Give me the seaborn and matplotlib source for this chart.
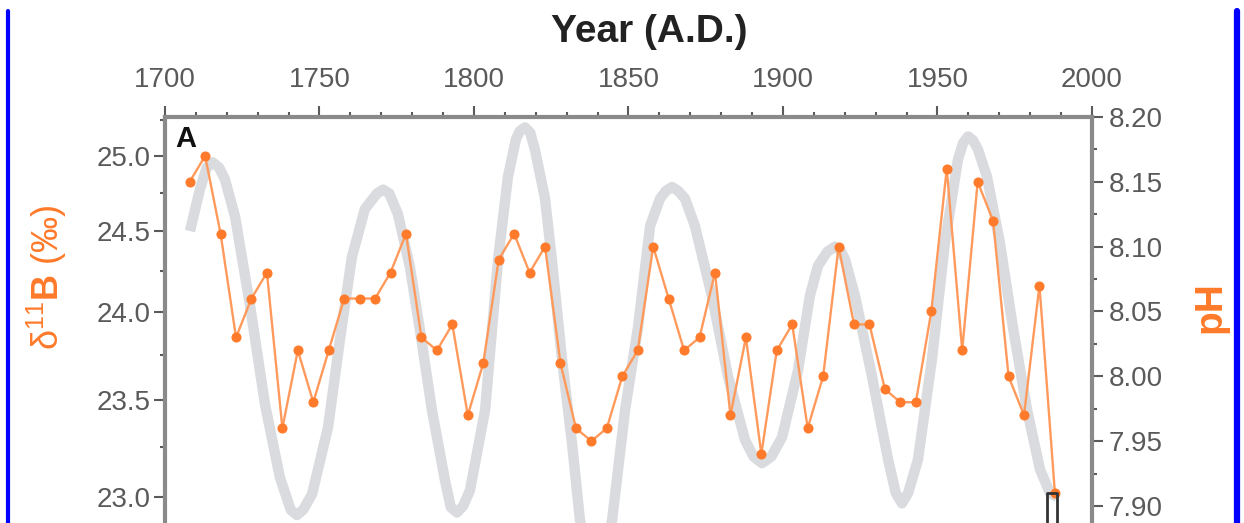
import numpy as np
import matplotlib
matplotlib.use('Agg')
import matplotlib.pyplot as plt
from matplotlib.lines import Line2D
from matplotlib.ticker import MultipleLocator, FormatStrFormatter
import seaborn as sns

# coral boron record, one sample every 5 years (pH units, right axis)
years = [1708, 1713, 1718, 1723, 1728, 1733, 1738, 1743, 1748, 1753,
         1758, 1763, 1768, 1773, 1778, 1783, 1788, 1793, 1798, 1803,
         1808, 1813, 1818, 1823, 1828, 1833, 1838, 1843, 1848, 1853,
         1858, 1863, 1868, 1873, 1878, 1883, 1888, 1893, 1898, 1903,
         1908, 1913, 1918, 1923, 1928, 1933, 1938, 1943, 1948, 1953,
         1958, 1963, 1968, 1973, 1978, 1983, 1988]
ph_values = [8.15, 8.17, 8.11, 8.03, 8.06, 8.08, 7.96, 8.02, 7.98, 8.02,
             8.06, 8.06, 8.06, 8.08, 8.11, 8.03, 8.02, 8.04, 7.97, 8.01,
             8.09, 8.11, 8.08, 8.10, 8.01, 7.96, 7.95, 7.96, 8.00, 8.02,
             8.10, 8.06, 8.02, 8.03, 8.08, 7.97, 8.03, 7.94, 8.02, 8.04,
             7.96, 8.00, 8.10, 8.04, 8.04, 7.99, 7.98, 7.98, 8.05, 8.16,
             8.02, 8.15, 8.12, 8.00, 7.97, 8.07, 7.91]

# grey smoothed oscillation
curve_years = [1708.1, 1711.3, 1713.5, 1715.5, 1717.5, 1719.4, 1722.7, 1727.5, 1732.4, 1737.2,
               1740.7, 1742.7, 1744.7, 1747.6, 1752.8, 1756.6, 1760.5, 1764.7, 1768.6, 1770.6,
               1772.6, 1775.4, 1779.3, 1782.5, 1786.4, 1790.6, 1792.5, 1794.5, 1796.5, 1798.7,
               1803.6, 1807.8, 1811.0, 1813.6, 1814.8, 1816.5, 1818.2, 1819.7, 1823.0, 1825.2,
               1828.5, 1831.7, 1834.3, 1837.5, 1839.5, 1841.5, 1844.7, 1848.9, 1853.1, 1857.0,
               1860.2, 1862.1, 1864.1, 1866.1, 1868.3, 1871.5, 1877.0, 1882.2, 1887.7, 1890.5,
               1893.2, 1896.2, 1899.7, 1904.9, 1908.7, 1911.3, 1914.3, 1916.8, 1918.6, 1920.1,
               1923.3, 1928.8, 1934.0, 1936.5, 1938.5, 1940.5, 1943.7, 1948.2, 1952.4, 1956.6,
               1958.3, 1959.9, 1961.5, 1963.1, 1966.0, 1970.2, 1974.4, 1979.0, 1983.2, 1986.4,
               1988.7]
curve_ph = [8.112, 8.144, 8.161, 8.165, 8.161, 8.152, 8.123, 8.055, 7.978, 7.922,
            7.897, 7.893, 7.897, 7.909, 7.961, 8.028, 8.092, 8.129, 8.141, 8.144,
            8.141, 8.125, 8.084, 8.036, 7.974, 7.920, 7.899, 7.895, 7.900, 7.912,
            7.974, 8.090, 8.154, 8.183, 8.189, 8.192, 8.188, 8.175, 8.137, 8.090,
            8.013, 7.949, 7.889, 7.860, 7.854, 7.860, 7.889, 7.974, 8.038, 8.116,
            8.137, 8.143, 8.146, 8.143, 8.137, 8.116, 8.062, 8.000, 7.951, 7.938,
            7.933, 7.938, 7.953, 8.005, 8.062, 8.085, 8.096, 8.100, 8.097, 8.090,
            8.062, 8.000, 7.936, 7.910, 7.902, 7.910, 7.936, 8.013, 8.103, 8.167,
            8.180, 8.185, 8.182, 8.175, 8.154, 8.103, 8.038, 7.974, 7.928, 7.910,
            7.907]

d11b_ticks = [23.0, 23.5, 24.0, 24.5, 25.0]
ph_ticks = [7.90, 7.95, 8.00, 8.05, 8.10, 8.15, 8.20]

bracket_years = [1985.5, 1985.5, 1988.7, 1988.7]
bracket_ph = [7.80, 7.91, 7.91, 7.80]

# boron isotope -> pH conversion used for the left scale
D11B_SW = 39.5
ALPHA = 1.0194
PKB = 8.6


def ph_to_d11b(ph):
    r = 10 ** (PKB - np.asarray(ph, dtype=float))
    return (D11B_SW * (1 + r) - 1000 * r * (ALPHA - 1)) / (1 + r * ALPHA)


def d11b_to_ph(d):
    d = np.asarray(d, dtype=float)
    with np.errstate(all='ignore'):
        ratio = (D11B_SW - d) / (ALPHA * d - D11B_SW + 1000 * (ALPHA - 1))
        return PKB - np.log10(ratio)


sns.set_style('ticks')
plt.rcParams['font.family'] = ['Liberation Sans', 'DejaVu Sans']
plt.rcParams['mathtext.fontset'] = 'custom'
plt.rcParams['mathtext.rm'] = 'Liberation Sans'
plt.rcParams['mathtext.bf'] = 'Liberation Sans:bold'

orange = '#ff7a2a'
grey_txt = '#5a5a5a'
spine_col = '#8a8a8a'

fig = plt.figure(figsize=(12.44, 5.23), dpi=100)
ax = fig.add_axes([0.1326, -0.0914, 0.7452, 0.8677])

sns.lineplot(x=curve_years, y=curve_ph, color='#d9dbde', linewidth=7.5, sort=False,
             ax=ax, solid_joinstyle='round', solid_capstyle='butt', zorder=1)
sns.lineplot(x=years, y=ph_values, color='#ff9a5c', linewidth=1.7, marker='o',
             markersize=6.5, markerfacecolor=orange, markeredgecolor=orange,
             ax=ax, zorder=3)
ax.plot(bracket_years, bracket_ph, color='#333333', lw=2, zorder=4, clip_on=False)

ax.set_xlim(1700, 2000)
ax.set_ylim(7.85, 8.20)

# top year axis
ax.xaxis.tick_top()
ax.xaxis.set_label_position('top')
ax.xaxis.set_major_locator(MultipleLocator(50))
ax.xaxis.set_minor_locator(MultipleLocator(10))
ax.set_xlabel('Year (A.D.)', fontsize=28, fontweight='bold', color='#222222')
ax.xaxis.set_label_coords(0.522, 1.187)
ax.xaxis.label.set_va('center')

# right pH axis
ax.yaxis.tick_right()
ax.yaxis.set_label_position('right')
ax.set_yticks(ph_ticks)
ax.yaxis.set_minor_locator(MultipleLocator(0.025))
ax.yaxis.set_major_formatter(FormatStrFormatter('%.2f'))
ax.set_ylabel('pH', fontsize=28, fontweight='bold', color=orange)
ax.yaxis.set_label_coords(1.128, 0.581)
ax.yaxis.label.set_va('center')

for s in ['bottom', 'left']:
    ax.spines[s].set_visible(False)
for s in ['top', 'right']:
    ax.spines[s].set_color(spine_col)
    ax.spines[s].set_linewidth(3)

ax.tick_params(which='major', length=8, width=1.5, color=grey_txt,
               labelsize=20, labelcolor=grey_txt, pad=4)
ax.tick_params(which='minor', length=3.5, width=1.5, color=grey_txt)
ax.tick_params(axis='x', which='major', pad=9)

# left delta11B axis
secax = ax.secondary_yaxis('left', functions=(ph_to_d11b, d11b_to_ph))
secax.set_yticks(d11b_ticks)
secax.yaxis.set_minor_locator(MultipleLocator(0.25))
secax.yaxis.set_major_formatter(FormatStrFormatter('%.1f'))
secax.spines['left'].set_color(spine_col)
secax.spines['left'].set_linewidth(3)
secax.tick_params(which='major', length=8, width=1.5, color=grey_txt,
                  labelsize=20, labelcolor=grey_txt, pad=2)
secax.tick_params(which='minor', length=3.5, width=1.5, color=grey_txt)
secax.set_ylabel('δ$^{\\mathrm{11}}$$\\mathbf{B}$ (‰)', fontsize=26, color=orange)
secax.yaxis.set_label_coords(0.0378, 0.4704, transform=fig.transFigure)
secax.yaxis.label.set_va('center')

ax.text(0.011, 0.982, 'A', transform=ax.transAxes, fontsize=21, fontweight='bold',
        color='#111111', ha='left', va='top')

# blue frame lines at both edges
fig.add_artist(Line2D([0.0064, 0.0064], [0, 0.979], transform=fig.transFigure,
                      color='#0000ff', lw=3))
fig.add_artist(Line2D([0.9942, 0.9942], [0, 0.979], transform=fig.transFigure,
                      color='#0000ff', lw=4.5))

fig.savefig('out.png', dpi=100)
